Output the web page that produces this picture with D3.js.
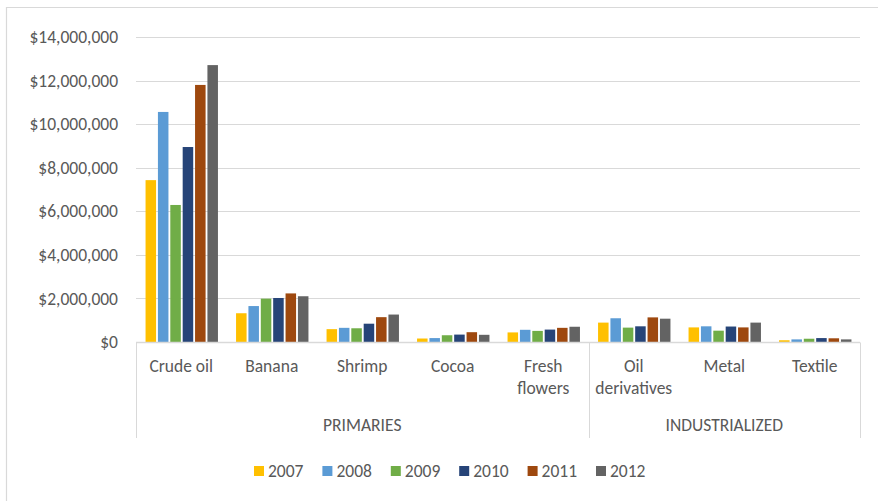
<!DOCTYPE html>
<html>
<head>
<meta charset="utf-8">
<script src="https://cdn.jsdelivr.net/npm/d3@7/dist/d3.min.js"></script>
<style>
  html, body { margin: 0; padding: 0; background: #fff; }
  svg text { font-family: Carlito, Lato, "Open Sans", sans-serif; fill: #595959; }
</style>
</head>
<body>
<svg id="chart" width="878" height="501"></svg>
<script>
// Export values (USD) by product and year
const categories = ["Crude oil", "Banana", "Shrimp", "Cocoa", "Fresh flowers", "Oil derivatives", "Metal", "Textile"];
const categoryLines = [["Crude oil"], ["Banana"], ["Shrimp"], ["Cocoa"], ["Fresh", "flowers"], ["Oil", "derivatives"], ["Metal"], ["Textile"]];
const groups = [
  { name: "PRIMARIES", from: 0, to: 5 },
  { name: "INDUSTRIALIZED", from: 5, to: 8 }
];
const years = ["2007", "2008", "2009", "2010", "2011", "2012"];
const colors = ["#FFC000", "#5B9BD5", "#70AD47", "#264478", "#9E480E", "#636363"];

const v2007 = [7430000, 1320000, 590000, 160000, 440000, 890000, 670000, 80000];
const v2008 = [10560000, 1650000, 650000, 180000, 560000, 1090000, 720000, 120000];
const v2009 = [6290000, 1990000, 630000, 310000, 510000, 660000, 520000, 150000];
const v2010 = [8950000, 2020000, 840000, 340000, 570000, 720000, 710000, 180000];
const v2011 = [11800000, 2230000, 1140000, 450000, 650000, 1130000, 670000, 170000];
const v2012 = [12710000, 2100000, 1260000, 330000, 700000, 1070000, 890000, 120000];
const series = [v2007, v2008, v2009, v2010, v2011, v2012];

const yTicks = [0, 2000000, 4000000, 6000000, 8000000, 10000000, 12000000, 14000000];

const FS = "17.5px";
const svg = d3.select("#chart");

// chart area frame (top and left edges)
svg.append("path")
  .attr("d", "M6.5,501 V7.5 H878")
  .attr("fill", "none").attr("stroke", "#d9d9d9").attr("stroke-width", 1.2);

const plot = { left: 136, right: 860, top: 37, bottom: 342 };

const y = d3.scaleLinear().domain([0, 14000000]).range([plot.bottom, plot.top]);
const x0 = d3.scaleBand().domain(d3.range(categories.length)).range([plot.left, plot.right]).paddingInner(0).paddingOuter(0);
const groupPad = 0.2;
const x1 = d3.scaleBand().domain(d3.range(years.length))
  .range([x0.bandwidth() * groupPad / 2 + 0.5, x0.bandwidth() * (1 - groupPad / 2) + 0.5])
  .paddingInner(0.15);

// gridlines + y labels
const yAxis = d3.axisLeft(y).tickValues(yTicks).tickSize(0).tickPadding(18)
  .tickFormat(d => "$" + d3.format(",")(d));
const yg = svg.append("g").attr("transform", `translate(${plot.left},0)`).call(yAxis);
yg.select(".domain").remove();
yg.selectAll("text").style("font-size", FS).attr("fill", "#595959");

svg.append("g").selectAll("line").data(yTicks.filter(d => d > 0)).join("line")
  .attr("x1", plot.left).attr("x2", plot.right)
  .attr("y1", d => Math.round(y(d)) + 0.5).attr("y2", d => Math.round(y(d)) + 0.5)
  .attr("stroke", "#d9d9d9").attr("stroke-width", 1);

// bars
const gBars = svg.append("g");
categories.forEach((c, i) => {
  const g = gBars.append("g").attr("transform", `translate(${x0(i)},0)`);
  g.selectAll("rect").data(series.map((s, k) => ({ k, v: s[i] }))).join("rect")
    .attr("x", d => x1(d.k))
    .attr("width", x1.bandwidth())
    .attr("y", d => y(d.v))
    .attr("height", d => y(0) - y(d.v))
    .attr("fill", d => colors[d.k]);
});

// category axis
const axisY = Math.round(y(0)) + 0.5;
svg.append("line").attr("x1", plot.left).attr("x2", plot.right)
  .attr("y1", axisY).attr("y2", axisY).attr("stroke", "#d9d9d9").attr("stroke-width", 1.5);

const sepXs = [plot.left, x0(groups[1].from), plot.right];
svg.append("g").selectAll("line").data(sepXs).join("line")
  .attr("x1", d => Math.round(d) + 0.5).attr("x2", d => Math.round(d) + 0.5)
  .attr("y1", axisY).attr("y2", 438)
  .attr("stroke", "#d9d9d9").attr("stroke-width", 1);

const catText = svg.append("g").selectAll("text").data(categoryLines).join("text")
  .attr("text-anchor", "middle")
  .attr("x", (d, i) => x0(i) + x0.bandwidth() / 2)
  .attr("y", 372)
  .style("font-size", FS);
catText.each(function (lines) {
  const t = d3.select(this);
  const cx = t.attr("x");
  lines.forEach((ln, j) => {
    t.append("tspan").attr("x", cx).attr("dy", j === 0 ? 0 : 22).text(ln);
  });
});

svg.append("g").selectAll("text").data(groups).join("text")
  .attr("text-anchor", "middle")
  .attr("x", d => (x0(d.from) + (d.to < categories.length ? x0(d.to) : plot.right)) / 2)
  .attr("y", 431)
  .style("font-size", FS)
  .text(d => d.name);

// legend
const legend = svg.append("g");
const legX = 254, legStep = 68.4, legY = 466;
years.forEach((yr, k) => {
  legend.append("rect").attr("x", legX + k * legStep).attr("y", legY)
    .attr("width", 10).attr("height", 10).attr("fill", colors[k]);
  legend.append("text").attr("x", legX + k * legStep + 14).attr("y", legY + 11)
    .style("font-size", FS).text(yr);
});
</script>
</body>
</html>
